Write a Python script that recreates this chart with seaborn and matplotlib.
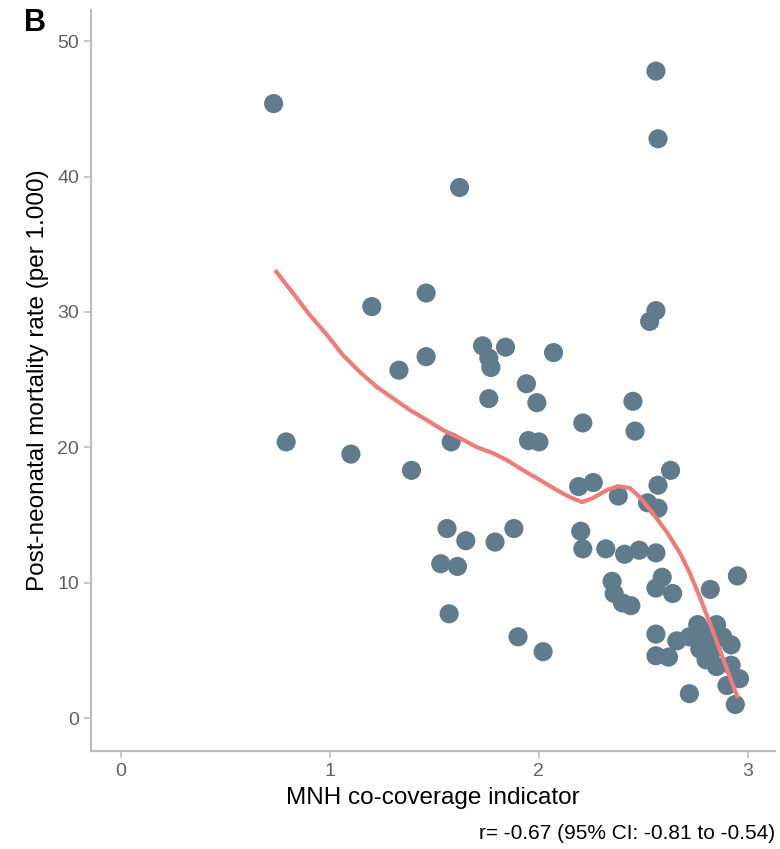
import numpy as np
import pandas as pd
import matplotlib
matplotlib.use("Agg")
import matplotlib.pyplot as plt
import seaborn as sns

# MNH co-coverage indicator vs post-neonatal mortality
coverage = [0.73, 0.79, 1.10, 1.20, 1.33, 1.39, 1.46, 1.46, 1.62, 1.58,
            1.56, 1.53, 1.61, 1.65, 1.57, 1.73, 1.76, 1.77, 1.84, 1.76,
            1.79, 1.88, 1.90, 1.94, 1.99, 1.95, 2.00, 2.02, 2.07, 2.21,
            2.19, 2.26, 2.20, 2.21, 2.32, 2.38, 2.41, 2.48, 2.56, 2.35,
            2.36, 2.40, 2.44, 2.56, 2.59, 2.64, 2.45, 2.46, 2.63, 2.57,
            2.52, 2.57, 2.56, 2.57, 2.56, 2.53, 2.82, 2.95, 2.56, 2.56,
            2.62, 2.66, 2.72, 2.94, 2.92, 2.76, 2.85, 2.72, 2.79, 2.77,
            2.83, 2.80, 2.85, 2.92, 2.96, 2.90, 2.83, 2.88]
mortality = [45.4, 20.4, 19.5, 30.4, 25.7, 18.3, 26.7, 31.4, 39.2, 20.4,
             14.0, 11.4, 11.2, 13.1, 7.7, 27.5, 26.6, 25.9, 27.4, 23.6,
             13.0, 14.0, 6.0, 24.7, 23.3, 20.5, 20.4, 4.9, 27.0, 21.8,
             17.1, 17.4, 13.8, 12.5, 12.5, 16.4, 12.1, 12.4, 12.2, 10.1,
             9.2, 8.5, 8.3, 9.6, 10.4, 9.2, 23.4, 21.2, 18.3, 17.2,
             15.9, 15.5, 47.8, 42.8, 30.1, 29.3, 9.5, 10.5, 6.2, 4.6,
             4.5, 5.7, 1.8, 1.0, 5.4, 6.9, 6.9, 6.0, 5.7, 5.1,
             5.0, 4.3, 3.8, 3.9, 2.9, 2.4, 6.3, 6.0]

# smoothed fit
fit_x = [0.737, 0.823, 0.904, 0.986, 1.062, 1.144, 1.225, 1.301, 1.383, 1.464,
         1.541, 1.622, 1.703, 1.780, 1.847, 1.923, 2.005, 2.086, 2.148, 2.206,
         2.258, 2.325, 2.378, 2.435, 2.483, 2.545, 2.612, 2.675, 2.722, 2.770,
         2.818, 2.866, 2.914, 2.952]
fit_y = [33.09, 31.39, 29.76, 28.29, 26.81, 25.55, 24.45, 23.63, 22.75, 22.01,
         21.27, 20.68, 20.01, 19.57, 19.05, 18.32, 17.58, 16.84, 16.32, 15.95,
         16.25, 16.84, 17.13, 16.99, 16.32, 15.14, 13.74, 12.19, 10.71, 8.94,
         7.02, 5.02, 3.03, 1.48]

sns.set_style("white")
plt.rcParams['font.family'] = ['Liberation Sans', 'DejaVu Sans']

fig = plt.figure(figsize=(7.8, 8.49), dpi=100)
ax = fig.add_axes([0.1167, 0.1154, 0.8769, 0.8726])

df = pd.DataFrame({"x": coverage, "y": mortality})
sns.scatterplot(data=df, x="x", y="y", s=190, color="#607B8B", edgecolor="none", ax=ax, zorder=2)
sns.lineplot(x=fit_x, y=fit_y, color="#F07B78", linewidth=3.0, ax=ax, zorder=3, sort=False,
             solid_joinstyle="round", solid_capstyle="butt")

ax.set_xlim(-0.144, 3.13)
ax.set_ylim(-2.44, 52.3)
ax.set_xticks([0, 1, 2, 3])
ax.set_yticks([0, 10, 20, 30, 40, 50])
sns.despine(ax=ax)
for s in ["left", "bottom"]:
    ax.spines[s].set_color("#BEBEBE")
    ax.spines[s].set_linewidth(1.6)
ax.tick_params(axis="both", colors="#BEBEBE", labelcolor="#606060", labelsize=14,
               length=5, width=1.2, direction="out", bottom=True, left=True)
ax.set_xlabel("MNH co-coverage indicator", fontsize=17.5, color="black", labelpad=5)
ax.set_ylabel("Post-neonatal mortality rate (per 1.000)", fontsize=17.5, color="black", labelpad=6)

fig.text(0.031, 0.991, "B", fontsize=22, fontweight="bold", color="black", va="top", ha="left")
fig.text(0.994, 0.007, "r= -0.67 (95% CI: -0.81 to -0.54)", fontsize=15, color="black",
         ha="right", va="bottom")

fig.savefig("out.png", dpi=100)
